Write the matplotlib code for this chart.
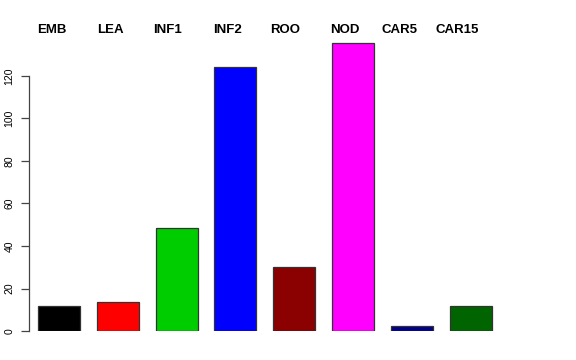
import numpy as np
import matplotlib
matplotlib.use("Agg")
import matplotlib.pyplot as plt

plt.rcParams['font.family'] = ['Liberation Sans', 'DejaVu Sans']

# dados
categories = ["EMB", "LEA", "INF1", "INF2", "ROO", "NOD", "CAR5", "CAR15"]
values = [11.8, 13.5, 48.6, 124.3, 30.2, 135.6, 2.4, 11.8]
colors = ["black", "red", "#00CD00", "blue", "#8B0000", "magenta", "#00008B", "#006400"]

W, H, DPI = 576, 360, 100
fig = plt.figure(figsize=(W / DPI, H / DPI), dpi=DPI, facecolor='white')

# layout estilo barplot do R
px_per_unit_x = 42.0
px_per_unit_y = 2.125
period = 1.4
first_left_px = 38
ax_left, ax_right = 29, 512
ax_bottom, ax_top = 331, 31
ax = fig.add_axes([ax_left / W, 1 - ax_bottom / H, (ax_right - ax_left) / W, (ax_bottom - ax_top) / H])

x_left = np.arange(len(values)) * period
ax.bar(x_left, values, width=1.0, align='edge', color=colors, edgecolor='#333333', linewidth=0.9)

ax.set_xlim(-(first_left_px - ax_left) / px_per_unit_x, (ax_right - first_left_px) / px_per_unit_x)
ax.set_ylim(0, (ax_bottom - ax_top) / px_per_unit_y)

for s in ['top', 'right', 'bottom']:
    ax.spines[s].set_visible(False)
ax.spines['left'].set_bounds(0, 120)
ax.spines['left'].set_color('#444444')
ax.spines['left'].set_linewidth(0.9)
ax.set_xticks([])
ax.set_yticks(np.arange(0, 121, 20))
ax.tick_params(axis='y', length=6, width=0.9, color='#444444', pad=4.5, labelsize=7.5)
for lbl in ax.get_yticklabels():
    lbl.set_rotation(90)
    lbl.set_va('center')

# rotulos no topo (deslocados um pouco a esquerda do centro da barra)
label_shift_px = [-7.3, -7.7, -9, -8, -8.8, -8.3, -12.7, -13.2]
for i, name in enumerate(categories):
    xc = x_left[i] + 0.5 + label_shift_px[i] / px_per_unit_x
    ax.text(xc, 1 - (30 - ax_top) / (ax_bottom - ax_top), name, transform=ax.get_xaxis_transform(),
            ha='center', va='center', fontsize=9.5, fontweight='bold', clip_on=False)

plt.savefig("out.png", dpi=DPI)
